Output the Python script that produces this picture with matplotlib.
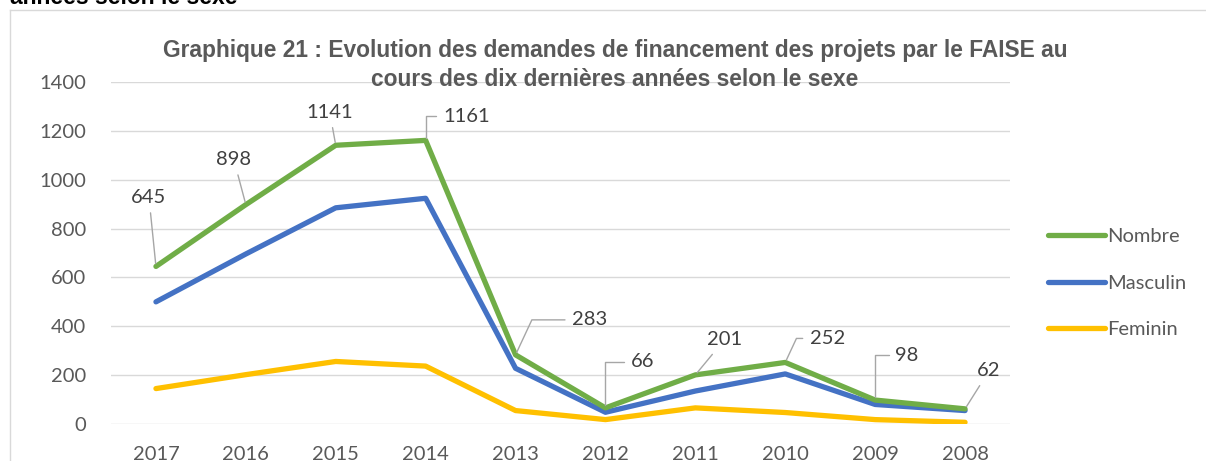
import matplotlib
matplotlib.use("Agg")
import matplotlib.pyplot as plt
from matplotlib.lines import Line2D

# data
years = ["2017", "2016", "2015", "2014", "2013", "2012", "2011", "2010", "2009", "2008"]
nombre = [645, 898, 1141, 1161, 283, 66, 201, 252, 98, 62]
masculin = [500, 696, 885, 924, 228, 48, 135, 205, 80, 55]
feminin = [145, 202, 256, 237, 55, 18, 66, 47, 18, 7]

green = "#70AD47"
blue = "#4472C4"
yellow = "#FFC000"
gray_txt = "#595959"

fig = plt.figure(figsize=(12.06, 4.61), dpi=100)
ax = fig.add_axes([111 / 1206, 1 - 424 / 461, 899 / 1206, 342 / 461])

x = list(range(len(years)))
ax.plot(x, nombre, color=green, lw=3.8, solid_capstyle="round", zorder=3)
ax.plot(x, masculin, color=blue, lw=3.8, solid_capstyle="round", zorder=2)
ax.plot(x, feminin, color=yellow, lw=3.8, solid_capstyle="round", zorder=1)

ax.set_xlim(-0.5, len(years) - 0.5)
ax.set_ylim(0, 1400)
ax.set_yticks(range(0, 1401, 200))
ax.set_xticks(x)
ax.set_xticklabels(years)
ax.grid(axis="y", color="#d9d9d9", lw=1)
ax.set_axisbelow(True)
for s in ax.spines.values():
    s.set_visible(False)
ax.tick_params(length=0, labelsize=14.5, labelcolor=gray_txt)
ax.tick_params(axis="x", pad=16)
ax.tick_params(axis="y", pad=18)
for lab in ax.get_xticklabels() + ax.get_yticklabels():
    lab.set_family("Lato")

# data labels (offset in pixels, connection style)
label_offsets = [(-7, 69, None), (-12, 45, None), (-6, 33, None), (41, 24, 90),
                 (74, 35, 65), (37, 46, 90), (29, 35, None), (42, 24, 65),
                 (32, 45, 90), (24, 38, None)]
for i, v in enumerate(nombre):
    dx, dy, ang = label_offsets[i]
    if ang is None:
        arrow = dict(arrowstyle="-", color="#a6a6a6", lw=1, shrinkA=3, shrinkB=2)
    else:
        arrow = dict(arrowstyle="-", color="#a6a6a6", lw=1, shrinkA=3, shrinkB=2,
                     relpos=(0, 0.5),
                     connectionstyle=f"angle,angleA=0,angleB={ang},rad=0")
    ax.annotate(str(v), (i, v), xytext=(dx, dy), textcoords="offset pixels",
                ha="center", va="center", fontsize=14.5, color="#404040",
                family="Lato", arrowprops=arrow, zorder=4)

# title
fig.text(615 / 1206, 1 - 65 / 461,
         "Graphique 21 : Evolution des demandes de financement des projets par le FAISE au\n"
         "cours des dix dernières années selon le sexe",
         ha="center", va="center", fontsize=16.4, fontweight="bold", color=gray_txt,
         family="Liberation Sans", linespacing=1.35)

# legend
handles = [Line2D([], [], color=c, lw=3.8, solid_capstyle="round") for c in (green, blue, yellow)]
leg = fig.legend(handles, ["Nombre", "Masculin", "Feminin"], loc="center left",
                 bbox_to_anchor=(1030 / 1206, 1 - 283 / 461), frameon=False,
                 handlelength=2.8, handletextpad=0.15, labelspacing=1.45,
                 prop={"family": "Lato", "size": 14.5})
for t in leg.get_texts():
    t.set_color(gray_txt)

# chart frame and cut-off caption above
fig.add_artist(Line2D([10 / 1206, 1], [1 - 10 / 461, 1 - 10 / 461], color="#d9d9d9", lw=1))
fig.add_artist(Line2D([10 / 1206, 10 / 1206], [0, 1 - 10 / 461], color="#d9d9d9", lw=1))
fig.text(10 / 1206, 1 - 4 / 461, "années selon le sexe", ha="left", va="baseline",
         fontsize=16.5, fontweight="bold", color="black", family="Liberation Sans")

fig.savefig("out.png", dpi=100)
